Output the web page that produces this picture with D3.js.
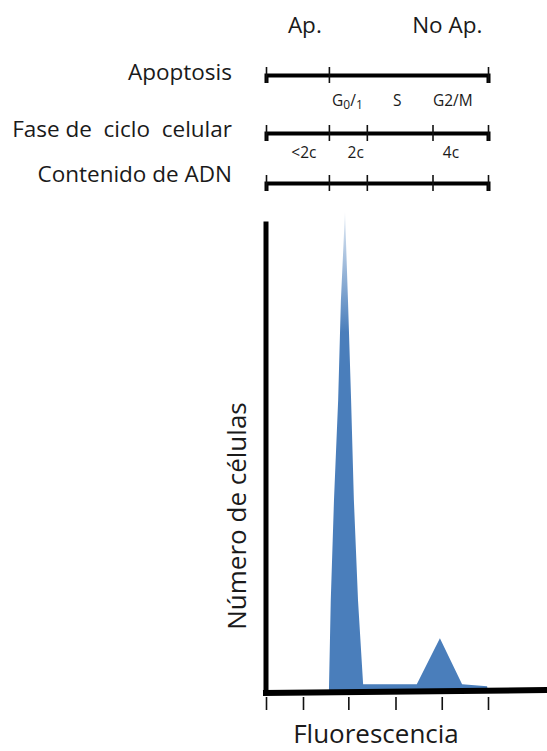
<!DOCTYPE html>
<html lang="es">
<head>
<meta charset="UTF-8" />
<title>Ciclo celular - histograma</title>
<script src="https://d3js.org/d3.v7.min.js"></script>
<style>
  body { margin: 0; background: #fff; }
  svg { display: block; font-family: "Open Sans", sans-serif; }
</style>
</head>
<body>
<svg id="chart" width="547" height="751"></svg>
<script>
// fluorescence channel (0..240) and cell counts
const fluor  = [68, 70, 73.5, 78, 81, 85.4, 88.6, 92, 95, 99.5, 105, 163, 188, 212, 239, 240];
const counts = [0, 190, 400, 608, 817, 1000, 817, 608, 400, 190, 16, 16, 112, 16, 12, 0];

// bottom axis ticks (fluorescence units)
const fluorTicks = [0, 40, 89, 140, 190, 240];

// upper reference scales
const apoTicks  = [0, 68, 240];
const faseTicks = [0, 68, 109, 180, 240];
const adnTicks  = [0, 68, 109, 180, 240];

const apoLabels  = ["Ap.", "No Ap."];
const apoPos     = [42, 196];
const faseLabels = ["G0/1", "S", "G2/M"];
const fasePos    = [88, 142, 202];
const adnLabels  = ["<2c", "2c", "4c"];
const adnPos     = [41, 97, 200];

const rowTitles = ["Apoptosis", "Fase de  ciclo  celular", "Contenido de ADN"];

const svg = d3.select("#chart");
const blue = "#4a7ebb";

const x = d3.scaleLinear().domain([0, 240]).range([266, 488]);
const y = d3.scaleLinear().domain([0, 1000]).range([692, 212]);

// ---- top scales ----
function scaleRow(yPos, ticks) {
  const axis = d3.axisBottom(x)
    .tickValues(ticks)
    .tickSizeOuter(0)
    .tickSize(8)
    .tickFormat("");
  const g = svg.append("g")
    .attr("transform", `translate(0,${yPos})`)
    .call(axis);
  g.select(".domain").attr("stroke", "#000").attr("stroke-width", 4);
  g.selectAll(".tick line")
    .attr("y1", -8).attr("y2", 8)
    .attr("stroke", "#111").attr("stroke-width", 1.6);
}
scaleRow(75, apoTicks);
scaleRow(133, faseTicks);
scaleRow(183, adnTicks);

// row titles
const titleY = [80, 137, 182];
rowTitles.forEach((t, i) => {
  svg.append("text")
    .attr("x", 232).attr("y", titleY[i])
    .attr("text-anchor", "end")
    .attr("font-size", "22.5px")
    .attr("fill", "#1a1a1a")
    .style("white-space", "pre")
    .text(t);
});

// Ap. / No Ap.
svg.selectAll(".apo")
  .data(apoLabels)
  .enter().append("text")
    .attr("x", (d, i) => x(apoPos[i]))
    .attr("y", 33)
    .attr("text-anchor", "middle")
    .attr("font-size", "22.5px")
    .attr("fill", "#1a1a1a")
    .text(d => d);

// cycle phase labels (G0/1 with subscripts)
faseLabels.forEach((d, i) => {
  const t = svg.append("text")
    .attr("x", x(fasePos[i]))
    .attr("y", 106)
    .attr("text-anchor", "middle")
    .attr("font-size", "15.5px")
    .attr("fill", "#1a1a1a");
  if (d === "G0/1") {
    t.append("tspan").text("G");
    t.append("tspan").attr("font-size", "12px").attr("dy", 3).text("0");
    t.append("tspan").attr("dy", -3).text("/");
    t.append("tspan").attr("font-size", "12px").attr("dy", 3).text("1");
  } else {
    t.text(d);
  }
});

// DNA content labels
svg.selectAll(".adn")
  .data(adnLabels)
  .enter().append("text")
    .attr("x", (d, i) => x(adnPos[i]))
    .attr("y", 158)
    .attr("text-anchor", "middle")
    .attr("font-size", "15.5px")
    .attr("fill", "#1a1a1a")
    .text(d => d);

// ---- histogram ----
const defs = svg.append("defs");
const grad = defs.append("linearGradient")
  .attr("id", "spikeFade")
  .attr("gradientUnits", "userSpaceOnUse")
  .attr("x1", 0).attr("x2", 0)
  .attr("y1", y(1000)).attr("y2", y(750));
grad.append("stop").attr("offset", "0%").attr("stop-color", blue).attr("stop-opacity", 0.15);
grad.append("stop").attr("offset", "100%").attr("stop-color", blue).attr("stop-opacity", 1);

const area = d3.area()
  .x((d, i) => x(fluor[i]))
  .y0(y(0))
  .y1((d, i) => y(counts[i]));

svg.append("path")
  .datum(counts)
  .attr("fill", "url(#spikeFade)")
  .attr("d", area);

// axes (thick lines)
svg.append("line")
  .attr("x1", x(0)).attr("x2", x(0))
  .attr("y1", y(0) + 2).attr("y2", y(980))
  .attr("stroke", "#000").attr("stroke-width", 5);

svg.append("line")
  .attr("x1", x(0) - 3).attr("x2", 547)
  .attr("y1", y(0) + 1).attr("y2", y(0) - 2)
  .attr("stroke", "#000").attr("stroke-width", 6);

// bottom ticks
const xAxis = d3.axisBottom(x)
  .tickValues(fluorTicks)
  .tickSize(13)
  .tickSizeOuter(0)
  .tickFormat("");
const gx = svg.append("g")
  .attr("transform", `translate(0,${y(0) + 5})`)
  .call(xAxis);
gx.select(".domain").remove();
gx.selectAll(".tick line").attr("stroke", "#111").attr("stroke-width", 1.6);

// axis titles
svg.append("text")
  .attr("x", 376).attr("y", 743)
  .attr("text-anchor", "middle")
  .attr("font-size", "26px")
  .attr("fill", "#1a1a1a")
  .text("Fluorescencia");

svg.append("text")
  .attr("transform", "translate(246,516) rotate(-90)")
  .attr("text-anchor", "middle")
  .attr("font-size", "26px")
  .attr("fill", "#1a1a1a")
  .text("Número de células");
</script>
</body>
</html>
